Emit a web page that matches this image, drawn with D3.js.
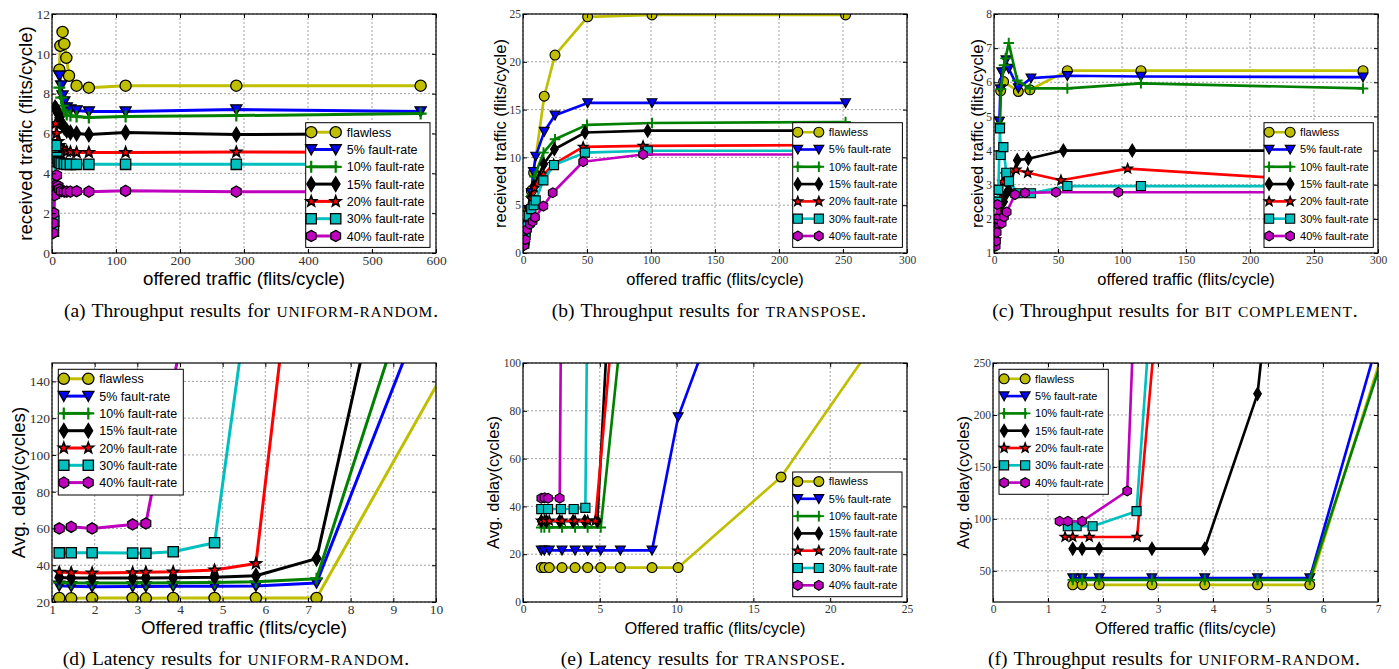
<!DOCTYPE html>
<html>
<head>
<meta charset="utf-8">
<script src="https://cdn.jsdelivr.net/npm/d3@7"></script>
<style>
body { margin: 0; background: #fff; }
svg { display: block; }
.tick text { font-family: "Liberation Serif", "DejaVu Serif", serif; fill: #333; }
.axis-label { font-family: "Liberation Sans", Arial, sans-serif; fill: #000; }
.legend text { font-family: "Liberation Sans", Arial, sans-serif; fill: #000; }
.caption { font-family: "Liberation Serif", "Times New Roman", serif; fill: #000; }
</style>
</head>
<body>
<svg id="chart" width="1399" height="669"></svg>
<script>
// legend entries, same order in every panel
var seriesNames = ["flawless", "5% fault-rate", "10% fault-rate", "15% fault-rate",
                   "20% fault-rate", "30% fault-rate", "40% fault-rate"];

// tick values
var ticksA_x = [0, 100, 200, 300, 400, 500, 600], ticksA_y = [0, 2, 4, 6, 8, 10, 12];
var ticksB_x = [0, 50, 100, 150, 200, 250, 300], ticksB_y = [0, 5, 10, 15, 20, 25];
var ticksC_x = [0, 50, 100, 150, 200, 250, 300], ticksC_y = [1, 2, 3, 4, 5, 6, 7, 8];
var ticksD_x = [1, 2, 3, 4, 5, 6, 7, 8, 9, 10], ticksD_y = [20, 40, 60, 80, 100, 120, 140];
var ticksE_x = [0, 5, 10, 15, 20, 25], ticksE_y = [0, 20, 40, 60, 80, 100];
var ticksF_x = [0, 1, 2, 3, 4, 5, 6, 7], ticksF_y = [50, 100, 150, 200, 250];

// (a) throughput, uniform-random
var uniformThrX = [
  [11.5, 13, 16.5, 19.2, 22.4, 26.6, 38.4, 57.6, 115, 288, 576],
  [11.5, 14.4, 16.5, 19.2, 23, 28.8, 38.4, 57.6, 115, 288, 576],
  [11.5, 14.4, 16.5, 19.2, 23, 28.8, 38.4, 57.6, 115, 288, 576],
  [4.8, 7.2, 9.6, 11.5, 14.4, 19.2, 23, 28.8, 38.4, 57.6, 115, 288, 576],
  [5.76, 7.2, 9.6, 11.5, 14.4, 19.2, 23, 28.8, 38.4, 57.6, 115, 288, 576],
  [2.3, 2.9, 3.8, 5.76, 7.2, 9.6, 11.5, 14.4, 19.2, 23, 28.8, 38.4, 57.6, 115, 288, 576],
  [1.4, 1.9, 2.9, 3.8, 5.76, 7.2, 9.6, 11.5, 14.4, 19.2, 23, 28.8, 38.4, 57.6, 115, 288, 576]
];
var uniformThrY = [
  [9.2, 10.4, 11.1, 10.5, 9.8, 8.9, 8.4, 8.3, 8.4, 8.4, 8.4],
  [8.9, 8.4, 7.9, 7.6, 7.3, 7.2, 7.15, 7.1, 7.1, 7.2, 7.1],
  [8.3, 7.8, 7.4, 7.1, 6.95, 6.9, 6.85, 6.8, 6.85, 6.9, 7.0],
  [7.3, 7.2, 7.0, 6.8, 6.55, 6.3, 6.15, 6.05, 6.0, 5.95, 6.05, 5.95, 6.0],
  [6.5, 6.0, 5.6, 5.4, 5.25, 5.15, 5.1, 5.08, 5.05, 5.05, 5.05, 5.07, 5.05],
  [1.1, 1.6, 3.0, 5.4, 4.8, 4.6, 4.55, 4.5, 4.47, 4.45, 4.45, 4.45, 4.45, 4.45, 4.45, 4.45],
  [1.0, 1.5, 2.0, 2.9, 3.4, 3.9, 3.35, 3.2, 3.1, 3.08, 3.08, 3.08, 3.1, 3.08, 3.12, 3.08, 3.08]
];

// (b) throughput, transpose
var transposeThrX = [
  [1, 2, 3, 4.5, 6.5, 8.3, 16.6, 25, 50.5, 100.8, 252],
  [1, 2, 3, 4.5, 6.5, 8.1, 9.9, 16.6, 25, 50.5, 100.8, 252],
  [1, 2, 3, 4.5, 6.5, 9, 16, 25, 50, 100.8, 252],
  [1, 2, 3, 4.5, 6.5, 8.5, 16.2, 24.5, 48.4, 97.4, 252],
  [1, 2, 3, 4.5, 6.5, 9, 16, 24, 47, 93.8, 252],
  [1, 2, 3, 4.5, 6.5, 8.3, 9.9, 15.9, 24.2, 48.4, 97.4, 252],
  [1, 1.8, 3.1, 5.4, 7.5, 9.4, 15.9, 23.2, 47, 93.8, 252]
];
var transposeThrY = [
  [1, 2, 3, 4.5, 6.5, 8.4, 16.4, 20.7, 24.7, 24.9, 24.9],
  [1, 2, 3, 4.5, 6.3, 8.5, 10.1, 12.7, 14.4, 15.7, 15.7, 15.7],
  [1, 2, 3, 4.4, 6, 8, 10.5, 11.9, 13.4, 13.6, 13.7],
  [1, 2, 2.9, 4.3, 5.8, 7, 9.3, 10.85, 12.6, 12.8, 12.8],
  [1, 2, 2.9, 4.2, 5.7, 6.8, 8.2, 9.3, 11.1, 11.2, 11.3],
  [1, 1.9, 2.8, 3.9, 4.6, 5.0, 5.5, 7.6, 9.2, 10.5, 10.7, 10.7],
  [0.8, 1.4, 2.45, 3.0, 3.3, 3.73, 4.9, 6.3, 9.55, 10.3, 10.3]
];

// (c) throughput, bit complement
var bitCompThrX = [
  [5.2, 7.5, 19, 28.1, 57.3, 114.8, 288.3],
  [4.2, 5, 6, 9.4, 11.5, 19, 28.9, 57.3, 114.8, 288.3],
  [4.7, 5.5, 7.8, 9, 11.5, 18.2, 28, 57.3, 114.8, 288.3],
  [1.5, 3, 5, 7.5, 9, 11.5, 18.2, 26.8, 54.2, 108, 288],
  [1.5, 3, 5, 6.8, 9, 17.2, 26.3, 52.3, 104.4, 288],
  [1.5, 2.5, 3.4, 4.7, 5.2, 7.3, 9.6, 11.7, 19, 28.9, 57.3, 114.8, 288],
  [1.3, 1.6, 2.1, 2.4, 2.6, 6, 7.8, 9.9, 16.4, 24.2, 48.4, 97.1, 288]
];
var bitCompThrY = [
  [5.75, 6.02, 5.73, 5.78, 6.34, 6.34, 6.34],
  [4.85, 5.8, 6.3, 6.65, 6.4, 5.83, 6.12, 6.19, 6.17, 6.15],
  [4.8, 5.8, 6.5, 6.7, 7.15, 6.05, 5.82, 5.82, 5.97, 5.82],
  [1.3, 1.8, 2.2, 2.5, 2.7, 2.85, 3.72, 3.76, 4.0, 4.0, 4.0],
  [1.4, 2.0, 2.6, 3.08, 3.3, 3.44, 3.35, 3.13, 3.47, 3.04],
  [2.0, 2.5, 2.85, 4.65, 3.87, 4.1, 3.35, 3.1, 2.75, 2.75, 2.96, 2.96, 2.96],
  [1.2, 1.35, 1.6, 2.0, 2.42, 1.87, 2.06, 2.2, 2.71, 2.76, 2.78, 2.78, 2.78]
];

// (d) latency, uniform-random
var uniformLatX = [
  [1.17, 1.45, 1.94, 2.89, 3.2, 3.84, 4.81, 5.78, 7.2, 11.5],
  [1.17, 1.45, 1.94, 2.89, 3.2, 3.84, 4.81, 5.78, 7.2, 11.5],
  [1.17, 1.45, 1.94, 2.89, 3.2, 3.84, 4.81, 5.78, 7.2, 11.5],
  [1.17, 1.45, 1.94, 2.89, 3.2, 3.84, 4.81, 5.78, 7.2, 11.5],
  [1.17, 1.45, 1.94, 2.89, 3.2, 3.84, 4.81, 5.78, 7.2],
  [1.17, 1.45, 1.94, 2.89, 3.2, 3.84, 4.81, 5.78],
  [1.17, 1.45, 1.94, 2.89, 3.2, 4.81]
];
var uniformLatY = [
  [22.2, 22.0, 22.2, 22.2, 22.0, 22.2, 22.2, 22.2, 22.2, 199],
  [28.8, 28.5, 28.3, 28.4, 28.4, 28.6, 28.6, 28.7, 30.4, 285],
  [30.6, 30.4, 30.3, 30.4, 30.4, 30.5, 30.6, 31.0, 32.7, 342],
  [33.3, 33.1, 33.0, 33.0, 33.1, 33.2, 33.5, 34.3, 43.6, 491],
  [36.2, 36.0, 35.8, 36.0, 36.2, 36.4, 37.4, 40.9, 322],
  [46.7, 46.8, 46.8, 46.6, 46.5, 47.3, 52.2, 216],
  [60.0, 60.9, 60.0, 62.2, 62.7, 256]
];

// (e) latency, transpose
var transposeLatX = [
  [1.19, 1.39, 1.71, 2.54, 3.39, 4.21, 5.06, 6.34, 8.4, 10.1, 16.8, 25.2],
  [1.19, 1.39, 1.71, 2.54, 3.39, 4.21, 5.06, 6.34, 8.4, 10.1, 16.8],
  [1.19, 1.39, 1.71, 2.54, 3.39, 4.21, 5.06, 6.34],
  [1.19, 1.52, 2.39, 3.26, 4.02, 4.84, 6.34],
  [1.19, 1.39, 1.71, 2.54, 3.39, 4.21, 4.71, 6.34],
  [1.19, 1.63, 2.47, 3.3, 4.06, 4.6],
  [1.19, 1.4, 1.63, 2.39, 2.8]
];
var transposeLatY = [
  [14.4, 14.4, 14.4, 14.4, 14.4, 14.4, 14.4, 14.4, 14.4, 14.4, 52.3, 130],
  [21.6, 21.6, 21.6, 21.6, 21.6, 21.6, 21.6, 21.6, 21.6, 77.4, 194],
  [31.2, 31.2, 31.2, 31.2, 31.2, 31.2, 31.2, 110],
  [33.8, 33.8, 33.8, 33.8, 33.8, 33.8, 215],
  [34.0, 34.0, 34.0, 34.0, 34.0, 34.0, 34.0, 152],
  [38.9, 38.9, 38.9, 38.9, 39.4, 400],
  [43.4, 43.6, 43.4, 43.4, 400]
];

// (f) second uniform-random delay plot
var uniformLat2X = [
  [1.45, 1.62, 1.93, 2.89, 3.85, 4.81, 5.76, 7.2],
  [1.45, 1.62, 1.93, 2.89, 3.85, 4.81, 5.76, 7.2],
  [1.45, 1.62, 1.93, 2.89, 3.85, 4.81, 5.76, 7.2],
  [1.45, 1.62, 1.93, 2.89, 3.85, 4.81, 5.76],
  [1.31, 1.45, 1.75, 2.62, 3.0],
  [1.36, 1.52, 1.81, 2.61, 2.9],
  [1.21, 1.36, 1.62, 2.44, 2.6]
];
var uniformLat2Y = [
  [36.5, 36.5, 36.5, 36.5, 36.5, 36.5, 36.5, 280],
  [43, 43, 43, 43, 43, 43, 43, 309],
  [41.3, 41.3, 41.3, 41.3, 41.3, 41.3, 41.3, 274],
  [71.3, 71.3, 71.3, 71.3, 71.3, 220.3, 695],
  [82.6, 82.6, 82.6, 82.6, 310],
  [92.9, 92.9, 92.9, 107.4, 325],
  [97.7, 97.7, 97.7, 126.8, 346]
];

var colors = ["#bfbf00", "#0000ff", "#008000", "#000000", "#ff0000", "#00bfbf", "#bf00bf"];
var markers = ["circle", "tri", "plus", "diamond", "star", "square", "hex"];

var throughputLabel = "received traffic (flits/cycle)";
var delayLabel = "Avg. delay(cycles)";

var panels = [
  { id: "a", xs: uniformThrX, ys: uniformThrY, xd: [0, 600], yd: [0, 12], xt: ticksA_x, yt: ticksA_y,
    box: [52, 436, 14, 253], k: 1, xlab: "offered traffic (flits/cycle)", ylab: throughputLabel, ylabX: 25,
    leg: [305.7, 122.7, 124.3, 124.7], cap: ["(a) Throughput results for ", "UNIFORM-RANDOM", 251, 317] },
  { id: "b", xs: transposeThrX, ys: transposeThrY, xd: [0, 300], yd: [0, 25], xt: ticksB_x, yt: ticksB_y,
    box: [523, 907, 14, 253], k: 0.88, xlab: "offered traffic (flits/cycle)", ylab: throughputLabel, ylabX: 500,
    leg: [792.7, 122.7, 109.7, 124.7], cap: ["(b) Throughput results for ", "TRANSPOSE", 709, 317] },
  { id: "c", xs: bitCompThrX, ys: bitCompThrY, xd: [0, 300], yd: [1, 8], xt: ticksC_x, yt: ticksC_y,
    box: [994, 1378, 14, 253], k: 0.88, xlab: "offered traffic (flits/cycle)", ylab: throughputLabel, ylabX: 977,
    leg: [1264, 122.7, 109.3, 124.7], cap: ["(c) Throughput results for ", "BIT COMPLEMENT", 1175, 317] },
  { id: "d", xs: uniformLatX, ys: uniformLatY, xd: [1, 10], yd: [20, 150], xt: ticksD_x, yt: ticksD_y,
    box: [52, 436, 363, 602], k: 1, xlab: "Offered traffic (flits/cycle)", ylab: delayLabel, ylabX: 18.5,
    leg: [58.3, 369.3, 125, 125.7], cap: ["(d) Latency results for ", "UNIFORM-RANDOM", 236, 665] },
  { id: "e", xs: transposeLatX, ys: transposeLatY, xd: [0, 25], yd: [0, 100], xt: ticksE_x, yt: ticksE_y,
    box: [523, 907, 363, 602], k: 0.88, xlab: "Offered traffic (flits/cycle)", ylab: delayLabel, ylabX: 493,
    leg: [792.7, 472, 109.3, 124.7], cap: ["(e) Latency results for ", "TRANSPOSE", 703, 665] },
  { id: "f", xs: uniformLat2X, ys: uniformLat2Y, xd: [0, 7], yd: [20, 250], xt: ticksF_x, yt: ticksF_y,
    box: [993, 1378, 363, 602], k: 0.88, xlab: "Offered traffic (flits/cycle)", ylab: delayLabel, ylabX: 963,
    leg: [999, 369.3, 109.3, 125], cap: ["(f) Throughput results for ", "UNIFORM-RANDOM", 1174, 665] }
];

var svg = d3.select("#chart");
var defs = svg.append("defs");

// marker outline centred on 0,0
function markerPath(type, r) {
  if (type == "circle") {
    return "M" + r + ",0A" + r + "," + r + " 0 1 1 " + (-r) + ",0A" + r + "," + r + " 0 1 1 " + r + ",0Z";
  }
  if (type == "tri") {
    return "M" + (-r) + "," + (-r * 0.85) + "L" + r + "," + (-r * 0.85) + "L0," + (r * 0.95) + "Z";
  }
  if (type == "plus") {
    return "M" + (-r) + ",0H" + r + "M0," + (-r) + "V" + r;
  }
  if (type == "diamond") {
    var h = r * 1.3;
    return "M0," + (-h) + "L" + (h * 0.6) + ",0L0," + h + "L" + (-h * 0.6) + ",0Z";
  }
  if (type == "star") {
    var pts = [];
    for (var i = 0; i < 10; i++) {
      var rr = i % 2 == 0 ? r : r * 0.42;
      var a = -Math.PI / 2 + i * Math.PI / 5;
      pts.push([rr * Math.cos(a), rr * Math.sin(a)]);
    }
    return "M" + pts.join("L") + "Z";
  }
  if (type == "square") {
    var s = r * 0.92;
    return "M" + (-s) + "," + (-s) + "H" + s + "V" + s + "H" + (-s) + "Z";
  }
  if (type == "hex") {
    var hp = [];
    for (var j = 0; j < 6; j++) {
      var b = -Math.PI / 2 + j * Math.PI / 3;
      hp.push([r * Math.cos(b), r * Math.sin(b)]);
    }
    return "M" + hp.join("L") + "Z";
  }
}

function drawMarker(g, i, cx, cy, k) {
  var r = (markers[i] == "plus" ? 6 : 5.6) * k;
  var m = g.append("path")
    .attr("transform", "translate(" + cx + "," + cy + ")")
    .attr("d", markerPath(markers[i], r));
  if (markers[i] == "plus") {
    m.attr("fill", "none").attr("stroke", colors[i]).attr("stroke-width", 2.2 * k);
  } else {
    m.attr("fill", colors[i]).attr("stroke", "#000")
      .attr("stroke-width", (markers[i] == "star" ? 1.6 : 1.3) * k)
      .attr("stroke-linejoin", "miter");
  }
}

panels.forEach(function (p) {
  var left = p.box[0], right = p.box[1], top = p.box[2], bottom = p.box[3];
  var x = d3.scaleLinear().domain(p.xd).range([left, right]);
  var y = d3.scaleLinear().domain(p.yd).range([bottom, top]);
  var k = p.k;
  var g = svg.append("g").attr("class", "panel-" + p.id);

  defs.append("clipPath").attr("id", "clip-" + p.id)
    .append("rect").attr("x", left).attr("y", top)
    .attr("width", right - left).attr("height", bottom - top);

  // grid
  g.selectAll(".gx").data(p.xt).enter().append("line")
    .attr("x1", function (d) { return x(d); }).attr("x2", function (d) { return x(d); })
    .attr("y1", top).attr("y2", bottom)
    .attr("stroke", "#8a8a8a").attr("stroke-width", 0.8).attr("stroke-dasharray", "2,2");
  g.selectAll(".gy").data(p.yt).enter().append("line")
    .attr("y1", function (d) { return y(d); }).attr("y2", function (d) { return y(d); })
    .attr("x1", left).attr("x2", right)
    .attr("stroke", "#8a8a8a").attr("stroke-width", 0.8).attr("stroke-dasharray", "2,2");

  // series
  var plot = g.append("g").attr("clip-path", "url(#clip-" + p.id + ")");
  var line = d3.line().x(function (d) { return x(d[0]); }).y(function (d) { return y(d[1]); });
  p.xs.forEach(function (xs, i) {
    var pts = xs.map(function (v, j) { return [v, p.ys[i][j]]; });
    plot.append("path").attr("d", line(pts))
      .attr("fill", "none").attr("stroke", colors[i])
      .attr("stroke-width", 3 * k).attr("stroke-linejoin", "round");
    pts.forEach(function (d) {
      if (d[1] <= p.yd[1] * 1.05) drawMarker(plot, i, x(d[0]), y(d[1]), k);
    });
  });

  // axes (ticks pointing inward)
  var tf = p.k == 1 ? 13.5 : 11.5;
  var fmt = function (d) { return String(d); };
  g.append("g").attr("transform", "translate(0," + bottom + ")")
    .call(d3.axisBottom(x).tickValues(p.xt).tickFormat(fmt).tickSize(-4).tickPadding(2.5));
  g.append("g").attr("transform", "translate(" + left + ",0)")
    .call(d3.axisLeft(y).tickValues(p.yt).tickFormat(fmt).tickSize(-4).tickPadding(2));
  g.append("g").attr("transform", "translate(0," + top + ")")
    .call(d3.axisTop(x).tickValues(p.xt).tickSize(-4).tickFormat(""));
  g.append("g").attr("transform", "translate(" + right + ",0)")
    .call(d3.axisRight(y).tickValues(p.yt).tickSize(-4).tickFormat(""));
  g.selectAll(".domain").remove();
  g.selectAll(".tick line").attr("stroke", "#000");
  g.selectAll(".tick text").attr("font-size", tf);

  g.append("rect").attr("x", left).attr("y", top)
    .attr("width", right - left).attr("height", bottom - top)
    .attr("fill", "none").attr("stroke", "#000").attr("stroke-width", 1.2);

  // axis titles
  var lf = 18.7 * k;
  g.append("text").attr("class", "axis-label")
    .attr("x", (left + right) / 2).attr("y", bottom + 32)
    .attr("text-anchor", "middle").attr("font-size", lf)
    .text(p.xlab);
  g.append("text").attr("class", "axis-label")
    .attr("transform", "translate(" + p.ylabX + "," + (top + bottom) / 2 + ") rotate(-90)")
    .attr("text-anchor", "middle").attr("dy", "0.35em").attr("font-size", lf)
    .text(p.ylab);

  // legend
  var L = p.leg;
  var leg = g.append("g").attr("class", "legend");
  leg.append("rect").attr("x", L[0]).attr("y", L[1]).attr("width", L[2]).attr("height", L[3])
    .attr("fill", "#fff").attr("stroke", "#000").attr("stroke-width", 1);
  seriesNames.forEach(function (name, i) {
    var cy = L[1] + 9.5 + i * 17.3;
    var x0 = L[0] + 3.5 * k, x1 = L[0] + 32 * k;
    leg.append("line").attr("x1", x0).attr("x2", x1).attr("y1", cy).attr("y2", cy)
      .attr("stroke", colors[i]).attr("stroke-width", 3 * k);
    drawMarker(leg, i, x0 + 2, cy, k);
    drawMarker(leg, i, x1 - 2, cy, k);
    leg.append("text").attr("x", L[0] + 41 * k).attr("y", cy).attr("dy", "0.36em")
      .attr("font-size", 12.5 * k).text(name);
  });

  // caption
  var cap = svg.append("text").attr("class", "caption")
    .attr("x", p.cap[2]).attr("y", p.cap[3]).attr("text-anchor", "middle")
    .attr("font-size", 19.5).attr("word-spacing", "1.5px");
  cap.append("tspan").text(p.cap[0]);
  cap.append("tspan").attr("font-size", 15.5).attr("letter-spacing", "0.8px").text(p.cap[1]);
  cap.append("tspan").text(".");
});
</script>
</body>
</html>
